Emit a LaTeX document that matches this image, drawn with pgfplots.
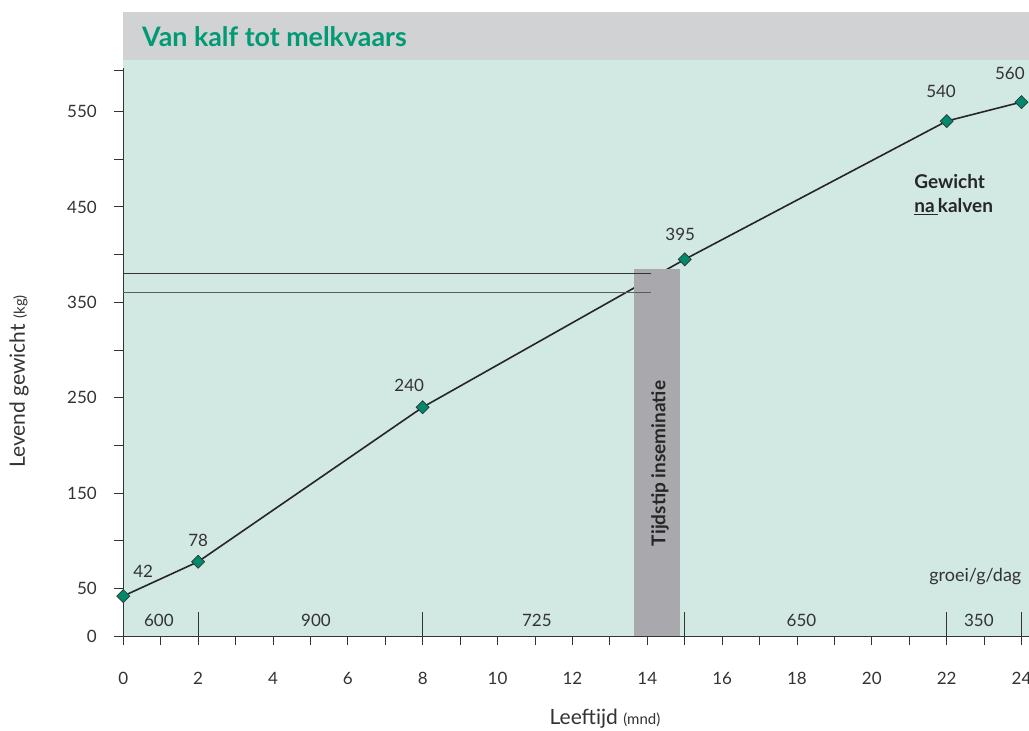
\documentclass[border=0pt]{standalone}
\usepackage{fontspec}
\setmainfont{Lato}
\usepackage{pgfplots}
\pgfplotsset{compat=1.18}
\definecolor{bggreen}{HTML}{D2E8E2}
\definecolor{titlegray}{HTML}{D1D2D4}
\definecolor{bargray}{HTML}{A9A9AD}
\definecolor{titlegreen}{HTML}{009A74}
\definecolor{markgreen}{HTML}{00896B}
\definecolor{txt}{HTML}{333333}
\pgfplotstableread{
x y
0 42
2 78
8 240
15 395
22 540
24 560
}\gewicht
\begin{document}
\begin{tikzpicture}[font=\fontsize{17}{20}\selectfont]
\begin{axis}[
  scale only axis, width=905.7pt, height=576pt,
  xmin=0, xmax=24.2, ymin=0, ymax=604,
  clip=false,
  axis background/.style={fill=bggreen},
  axis x line*=bottom, axis y line*=left,
  y axis line style={draw=none},
  x axis line style={txt, line width=1pt, -},
  xtick={0,2,...,24}, minor x tick num=1,
  ytick={0,50,150,250,350,450,550},
  extra y ticks={100,200,300,400,500,593},
  extra y tick labels={},
  tick align=outside,
  major tick length=9pt, minor tick length=9pt,
  tick style={txt, line width=0.9pt},
  every tick/.style={txt, line width=0.9pt},
  tick label style={txt, font=\fontsize{17}{20}\selectfont},
  xticklabel style={yshift=-24pt},
  yticklabel style={xshift=-14pt},
  /pgf/number format/assume math mode=true,
]
% title bar
\fill[titlegray] (axis cs:0,604) rectangle (axis cs:24.2,654);
\node[anchor=west, inner sep=0pt, text=titlegreen, font=\fontsize{26.8}{30}\selectfont\bfseries] at (axis cs:0.5,629) {Van kalf tot melkvaars};
% y axis line
\draw[txt, line width=1pt] (axis cs:0,0) -- (axis cs:0,596);
% growth line
\addplot[black!85, line width=1.6pt, no marks] table {\gewicht};
% gray bar
\fill[bargray] (axis cs:13.65,0) rectangle (axis cs:14.88,385);
% horizontal lines
\draw[txt, line width=0.8pt] (axis cs:0,380.5) -- (axis cs:14.1,380.5);
\draw[txt!80, line width=0.8pt] (axis cs:0,360) -- (axis cs:14.1,360);
% markers
\addplot[only marks, mark=square*, mark size=4.6pt, mark options={rotate=45, fill=markgreen, draw=black!80, line width=0.7pt}] table {\gewicht};
% value labels
\node[text=txt] at (axis cs:0.53,68) {42};
\node[text=txt] at (axis cs:2.0,100.5) {78};
\node[text=txt] at (axis cs:7.64,263) {240};
\node[text=txt] at (axis cs:14.88,421.5) {395};
\node[text=txt] at (axis cs:21.85,571.5) {540};
\node[text=txt] at (axis cs:23.69,590) {560};
% growth row
\pgfplotsinvokeforeach{2,8,15,22,24}{\draw[txt, line width=0.9pt] (axis cs:#1,0) -- (axis cs:#1,25.5);}
\node[text=txt] at (axis cs:0.95,16.5) {600};
\node[text=txt] at (axis cs:5.15,16.5) {900};
\node[text=txt] at (axis cs:11.05,16.5) {725};
\node[text=txt] at (axis cs:18.12,16.5) {650};
\node[text=txt] at (axis cs:22.86,16.5) {350};
\node[text=txt, anchor=east, inner sep=0pt, font=\fontsize{18}{20}\selectfont] at (axis cs:24.0,62) {groei/g/dag};
% annotations
\node[text=black!85, anchor=west, inner sep=0pt, align=left, font=\fontsize{19}{24}\selectfont\bfseries] at (axis cs:21.13,463) {Gewicht\\\underline{na\,}kalven};
\node[text=black!85, rotate=90, inner sep=0pt, font=\fontsize{19}{22}\selectfont\bfseries] at (axis cs:14.34,181) {Tijdstip inseminatie};
% axis labels
\node[text=txt, rotate=90, anchor=base, inner sep=0pt, font=\fontsize{21}{24}\selectfont] at (axis cs:-2.626,267) {Levend gewicht {\fontsize{15}{16}\selectfont(kg)}};
\node[text=txt, anchor=base, inner sep=0pt, font=\fontsize{21}{24}\selectfont] at (axis cs:12.87,-92.3) {Leeftijd {\fontsize{15}{16}\selectfont(mnd)}};
% bounding box corners
\coordinate (bbsw) at (axis cs:-3.294,-98.6);
\coordinate (bbne) at (axis cs:24.2,667);
\end{axis}
\pgfresetboundingbox
\path[use as bounding box] (bbsw) rectangle (bbne);
\end{tikzpicture}
\end{document}
